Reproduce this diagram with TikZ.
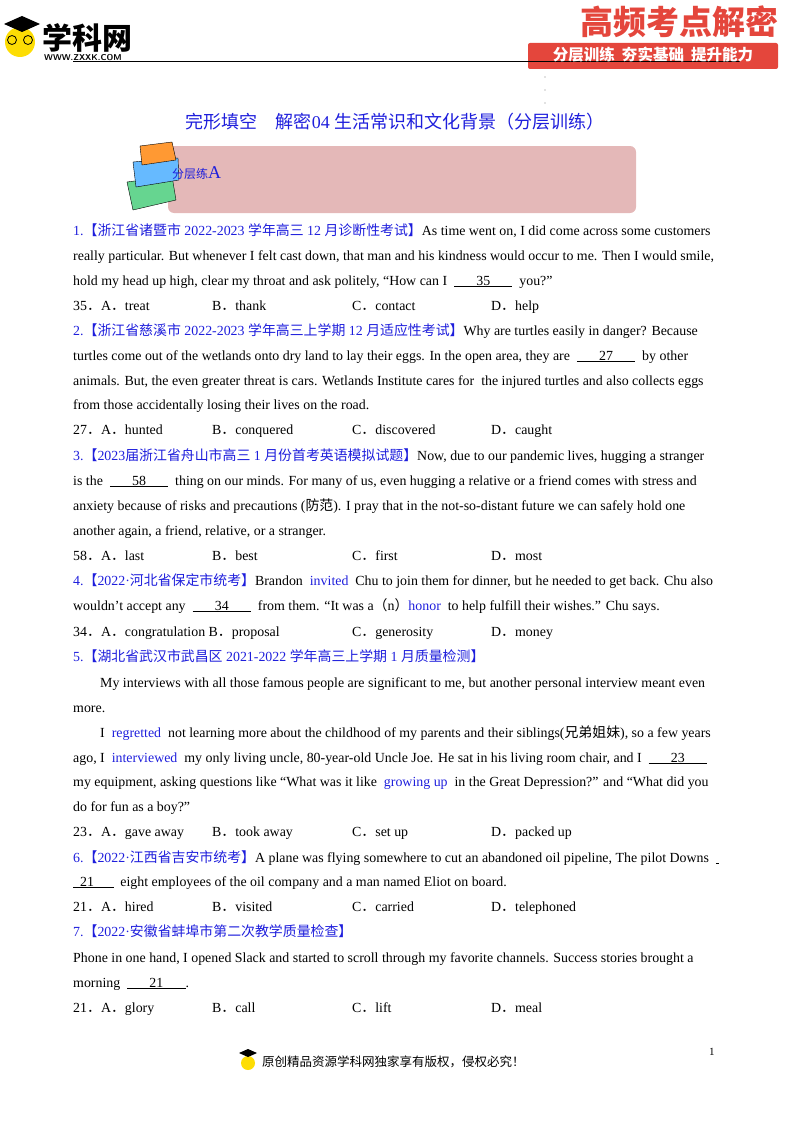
\documentclass[tikz,border=0pt]{standalone}
\usepackage{fontspec}
\setmainfont{Liberation Serif}
\newfontfamily\cjk{Noto Sans CJK SC}
\definecolor{qblue}{RGB}{30,30,220}
\definecolor{hred}{RGB}{228,70,60}
\definecolor{pinkbox}{RGB}{228,184,184}
\newcommand\C[1]{{\cjk #1}}
\newcommand\B[1]{\textcolor{qblue}{#1}}
\newcommand\Bl[1]{\underline{\hspace{1.6em}#1\hspace{1.6em}}}
\tikzset{ln/.style={anchor=base west,inner sep=0pt,font=\fontsize{13.9}{15}\selectfont}}
\newcommand\Ln[3]{\node[ln] (#1) at (73,#2) {#3};}
\newcommand\Opt[6]{\node[ln] (#1a) at (73,#2) {#3};\node[ln] (#1b) at (212,#2) {#4};\node[ln] (#1c) at (352,#2) {#5};\node[ln] (#1d) at (491,#2) {#6};}
\begin{document}
\begin{tikzpicture}[x=1pt,y=-1pt]
\useasboundingbox (0,0) rectangle (800,1132);
% header logo
\fill[yellow!80!orange] (20,42) circle (15);
\fill[black] (4,24) -- (22,16) -- (40,24) -- (22,32) -- cycle;
\draw[black,thick] (12,40) circle (4.5) (28,40) circle (4.5);
\node[anchor=west,inner sep=0pt,font=\cjk\bfseries\fontsize{30}{30}\selectfont] (xkw) at (42,38) {学科网};
\node[anchor=west,inner sep=0pt,font=\sffamily\bfseries\fontsize{8.5}{9}\selectfont] (www) at (44,58) {WWW.ZXXK.COM};
\fill[hred,rounded corners=2pt] (528,43) rectangle (778,69);
\draw[line width=1pt] (73,62) -- (740,62);
\node[anchor=east,inner sep=0pt,text=hred,font=\cjk\bfseries\fontsize{33}{33}\selectfont] (gp) at (779,22) {高频考点解密};
\node[inner sep=0pt,text=white,font=\cjk\bfseries\fontsize{15.5}{16}\selectfont] (slog) at (653,55) {分层训练\ \ 夯实基础\ \ 提升能力};
\foreach \yy in {77,90,103} \fill[gray] (545,\yy) circle (0.6);
% title
\node[inner sep=0pt,text=qblue,font=\fontsize{18}{19}\selectfont] (title) at (395,122) {\C{完形填空}\quad\C{解密}04\ \C{生活常识和文化背景（分层训练）}};
\fill[pinkbox,rounded corners=6pt] (168,146) rectangle (636,213);
% books
\fill[green!45!teal!60,draw=black,thin] (127,182) -- (172,176) -- (176,200) -- (133,210) -- cycle;
\fill[blue!45!cyan!60,draw=black,thin] (133,162) -- (178,158) -- (179,180) -- (136,187) -- cycle;
\fill[orange!80,draw=black,thin] (140,146) -- (172,142) -- (176,160) -- (142,165) -- cycle;
\node[anchor=base west,inner sep=0pt,text=qblue,font=\fontsize{12}{12}\selectfont] (fcl) at (172,178) {\C{分层练}\fontsize{18}{18}\selectfont A};
% Q1
\Ln{q1a}{235}{\B{1.\C{【浙江省诸暨市} 2022-2023 \C{学年高三} 12 \C{月诊断性考试】}}As time went on, I did come across some customers}
\Ln{q1b}{260}{really particular. But whenever I felt cast down, that man and his kindness would occur to me. Then I would smile,}
\Ln{q1c}{285}{hold my head up high, clear my throat and ask politely, “How can I \ \Bl{35} \ you?”}
\Opt{o1}{310}{35\C{．}A\C{．}treat}{B\C{．}thank}{C\C{．}contact}{D\C{．}help}
% Q2
\Ln{q2a}{335}{\B{2.\C{【浙江省慈溪市} 2022-2023 \C{学年高三上学期} 12 \C{月适应性考试】}}Why are turtles easily in danger? Because}
\Ln{q2b}{360}{turtles come out of the wetlands onto dry land to lay their eggs. In the open area, they are \ \Bl{27} \ by other}
\Ln{q2c}{385}{animals. But, the even greater threat is cars. Wetlands Institute cares for \ the injured turtles and also collects eggs}
\Ln{q2d}{409}{from those accidentally losing their lives on the road.}
\Opt{o2}{434}{27\C{．}A\C{．}hunted}{B\C{．}conquered}{C\C{．}discovered}{D\C{．}caught}
% Q3
\Ln{q3a}{460}{\B{3.\C{【}2023\C{届浙江省舟山市高三} 1 \C{月份首考英语模拟试题】}}Now, due to our pandemic lives, hugging a stranger}
\Ln{q3b}{485}{is the \ \Bl{58} \ thing on our minds. For many of us, even hugging a relative or a friend comes with stress and}
\Ln{q3c}{510}{anxiety because of risks and precautions (\C{防范}). I pray that in the not-so-distant future we can safely hold one}
\Ln{q3d}{535}{another again, a friend, relative, or a stranger.}
\Opt{o3}{560}{58\C{．}A\C{．}last}{B\C{．}best}{C\C{．}first}{D\C{．}most}
% Q4
\Ln{q4a}{585}{\B{4.\C{【}2022\textperiodcentered\C{河北省保定市统考】}}Brandon \ \B{invited} \ Chu to join them for dinner, but he needed to get back. Chu also}
\Ln{q4b}{610}{wouldn’t accept any \ \Bl{34} \ from them. “It was a\C{（}n\C{）}\B{honor} \ to help fulfill their wishes.” Chu says.}
\node[ln] (o4a) at (73,636) {34\C{．}A\C{．}congratulation B\C{．}proposal};
\node[ln] (o4c) at (352,636) {C\C{．}generosity};
\node[ln] (o4d) at (491,636) {D\C{．}money};
% Q5
\Ln{q5a}{661}{\B{5.\C{【湖北省武汉市武昌区} 2021-2022 \C{学年高三上学期} 1 \C{月质量检测】}}}
\node[ln] (q5b) at (100,687) {My interviews with all those famous people are significant to me, but another personal interview meant even};
\Ln{q5c}{712}{more.}
\node[ln] (q5d) at (100,737) {I \ \B{regretted} \ not learning more about the childhood of my parents and their siblings(\C{兄弟姐妹}), so a few years};
\Ln{q5e}{762}{ago, I \ \B{interviewed} \ my only living uncle, 80-year-old Uncle Joe. He sat in his living room chair, and I \ \Bl{23}}
\Ln{q5f}{786}{my equipment, asking questions like “What was it like \ \B{growing up} \ in the Great Depression?” and “What did you}
\Ln{q5g}{811}{do for fun as a boy?”}
\Opt{o5}{836}{23\C{．}A\C{．}gave away}{B\C{．}took away}{C\C{．}set up}{D\C{．}packed up}
% Q6
\Ln{q6a}{862}{\B{6.\C{【}2022\textperiodcentered\C{江西省吉安市统考】}}A plane was flying somewhere to cut an abandoned oil pipeline, The pilot Downs \ \underline{\ }}
\Ln{q6b}{886}{\underline{\ \ 21\hspace{1.4em}} \ eight employees of the oil company and a man named Eliot on board.}
\Opt{o6}{911}{21\C{．}A\C{．}hired}{B\C{．}visited}{C\C{．}carried}{D\C{．}telephoned}
% Q7
\Ln{q7a}{936}{\B{7.\C{【}2022\textperiodcentered\C{安徽省蚌埠市第二次教学质量检查】}}}
\Ln{q7b}{962}{Phone in one hand, I opened Slack and started to scroll through my favorite channels. Success stories brought a}
\Ln{q7c}{987}{morning \ \Bl{21}.}
\Opt{o7}{1012}{21\C{．}A\C{．}glory}{B\C{．}call}{C\C{．}lift}{D\C{．}meal}
% footer
\node[ln,font=\fontsize{11}{11}\selectfont] (pg) at (709,1055) {1};
\fill[yellow!80!orange] (248,1063) circle (7);
\fill[black] (239,1053) -- (248,1049) -- (257,1053) -- (248,1057) -- cycle;
\node[anchor=west,inner sep=0pt,font=\cjk\fontsize{12.5}{12}\selectfont] (foot) at (262,1062) {原创精品资源学科网独家享有版权，侵权必究！};
\end{tikzpicture}
\end{document}
